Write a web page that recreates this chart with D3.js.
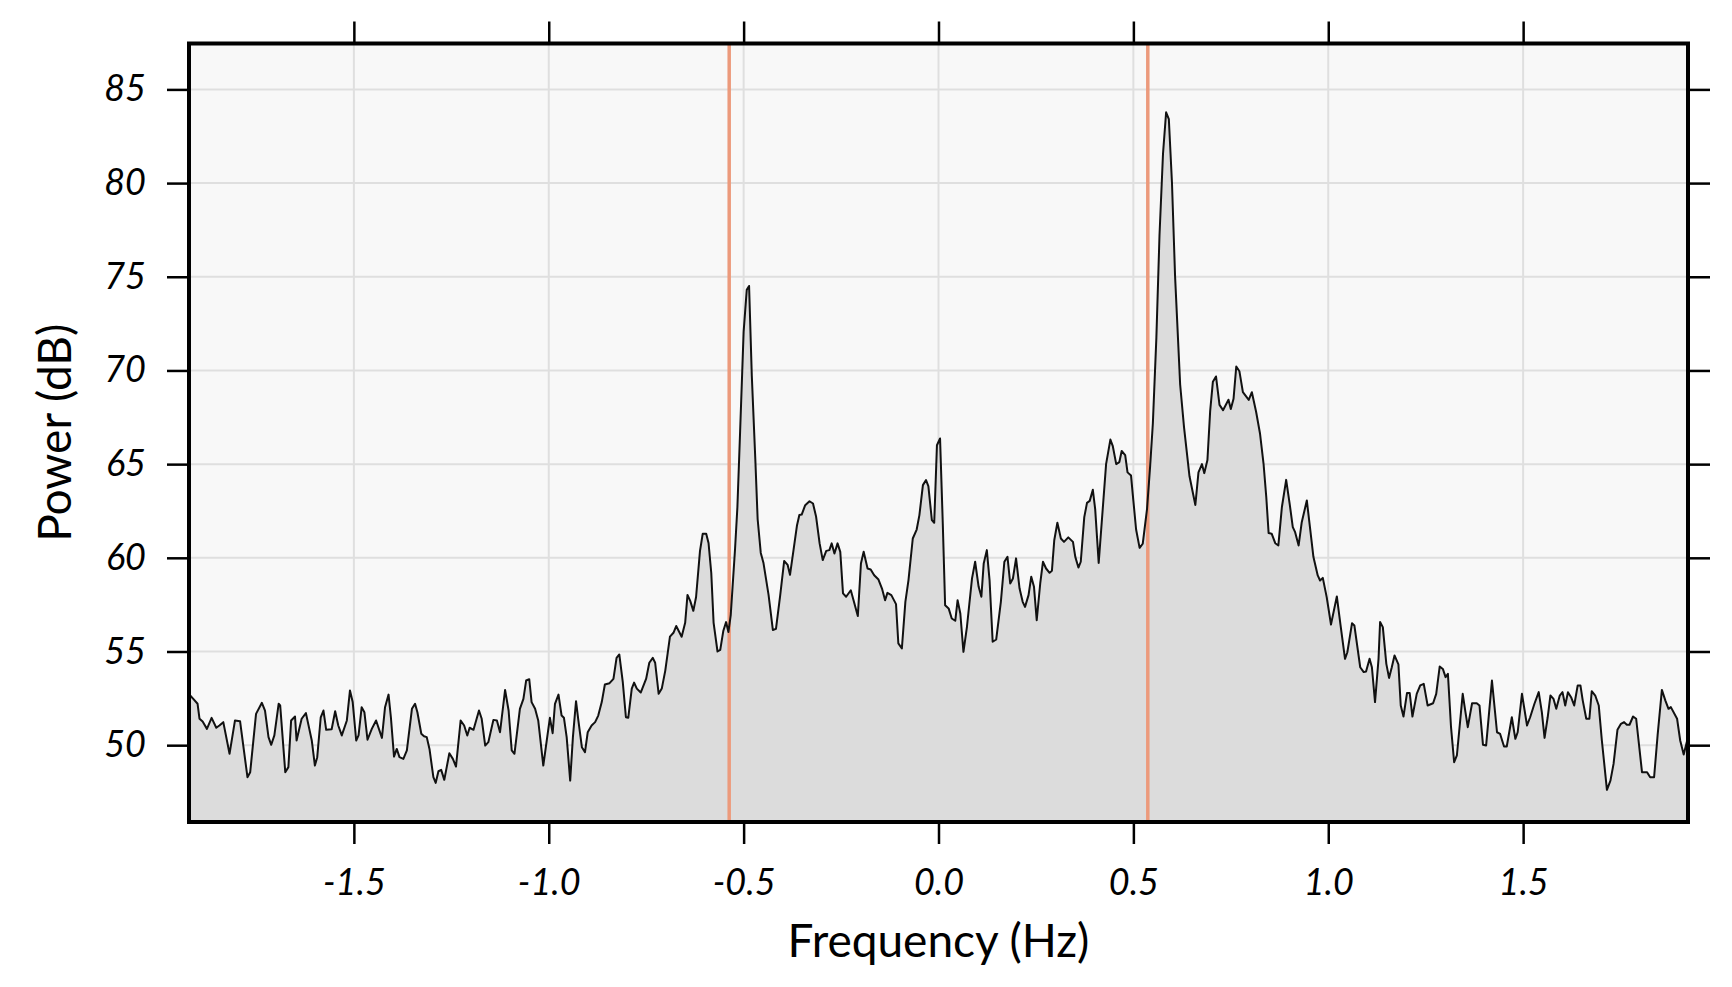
<!DOCTYPE html>
<html>
<head>
<meta charset="utf-8">
<script src="https://cdn.jsdelivr.net/npm/d3@7"></script>
<style>
  html, body { margin: 0; padding: 0; background: #ffffff; }
  svg { display: block; }
</style>
</head>
<body>
<svg id="chart" width="1732" height="987"></svg>
<script>
// ---------------- data ----------------
const freqHz = [
  -1.920,-1.912,-1.901,-1.896,-1.888,-1.877,-1.865,-1.853,-1.845,-1.835,-1.819,-1.805,-1.792,-1.773,-1.766,-1.751,-1.736,-1.728,-1.719,-1.712,-1.704,-1.693,-1.689,-1.676,-1.668,-1.661,-1.651,-1.647,-1.634,-1.623,-1.608,-1.600,-1.594,-1.585,-1.578,-1.571,-1.557,-1.548,-1.540,
  -1.531,-1.518,-1.510,-1.503,-1.494,-1.488,-1.480,-1.473,-1.465,-1.454,-1.443,-1.428,-1.420,-1.411,-1.405,-1.397,-1.390,-1.383,-1.373,-1.364,-1.351,-1.343,-1.337,-1.327,-1.320,-1.313,-1.306,-1.296,-1.290,-1.283,-1.276,-1.268,-1.255,-1.246,-1.238,-1.226,-1.217,-1.209,-1.203,-1.193,-1.179,-1.172,
  -1.163,-1.155,-1.142,-1.133,-1.125,-1.112,-1.103,-1.095,-1.088,-1.074,-1.065,-1.058,-1.050,-1.044,-1.035,-1.027,-1.014,-1.001,-0.997,-0.990,-0.984,-0.975,-0.967,-0.961,-0.954,-0.945,-0.938,-0.930,-0.924,-0.915,-0.907,-0.900,-0.890,-0.881,-0.873,-0.864,-0.856,-0.844,-0.834,-0.826,-0.819,-0.810,-0.802,-0.796,
  -0.787,-0.781,-0.774,-0.764,-0.750,-0.742,-0.733,-0.727,-0.718,-0.710,-0.701,-0.689,-0.680,-0.673,-0.659,-0.650,-0.644,-0.637,-0.629,-0.622,-0.612,-0.605,-0.596,-0.590,-0.583,-0.577,-0.567,-0.560,-0.552,-0.545,-0.539,-0.533,-0.522,-0.516,-0.509,-0.500,-0.492,-0.486,-0.479,-0.470,-0.464,-0.456,-0.449,-0.436,-0.425,-0.417,-0.406,-0.396,-0.387,-0.381,
  -0.372,-0.363,-0.357,-0.351,-0.342,-0.331,-0.322,-0.314,-0.305,-0.297,-0.288,-0.280,-0.274,-0.267,-0.259,-0.252,-0.245,-0.237,-0.225,-0.218,-0.207,-0.199,-0.192,-0.182,-0.174,-0.165,-0.154,-0.145,-0.137,-0.131,-0.121,-0.109,-0.103,-0.094,-0.085,-0.077,-0.066,-0.056,-0.049,-0.040,-0.032,-0.026,-0.017,-0.011,
  -0.004,0.004,0.011,0.017,0.026,0.034,0.043,0.049,0.056,0.064,0.073,0.086,0.094,0.103,0.110,0.116,0.124,0.131,0.139,0.148,0.160,0.169,0.177,0.184,0.191,0.199,0.208,0.216,0.222,0.231,0.238,0.245,0.252,0.261,0.268,0.276,0.285,0.291,0.297,0.305,0.314,0.322,0.333,0.345,0.351,0.359,0.365,
  0.374,0.381,0.388,0.396,0.402,0.411,0.419,0.430,0.441,0.447,0.456,0.464,0.470,0.479,0.485,0.494,0.500,0.507,0.516,0.524,0.535,0.543,0.550,0.559,0.567,0.576,0.584,0.591,0.599,0.607,0.620,0.630,0.644,0.659,0.667,0.676,0.682,0.690,0.697,0.704,0.712,0.721,0.730,0.744,0.750,0.757,
  0.764,0.772,0.781,0.796,0.804,0.815,0.825,0.834,0.841,0.847,0.855,0.864,0.872,0.881,0.892,0.901,0.909,0.915,0.924,0.932,0.945,0.954,0.962,0.973,0.979,0.986,0.996,1.007,1.022,1.032,1.043,1.049,1.061,1.067,1.082,1.091,1.097,1.106,1.112,1.120,1.129,
  1.133,1.140,1.149,1.156,1.163,1.170,1.180,1.186,1.193,1.202,1.209,1.216,1.227,1.236,1.245,1.255,1.269,1.277,1.286,1.294,1.301,1.307,1.315,1.323,1.330,1.345,1.352,1.358,1.369,1.381,1.388,1.397,1.405,1.420,1.433,1.441,1.451,1.458,1.471,1.480,1.486,1.497,1.510,
  1.518,1.529,1.540,1.548,1.555,1.563,1.570,1.578,1.585,1.594,1.601,1.608,1.615,1.623,1.631,1.640,1.647,1.653,1.662,1.670,1.676,1.685,1.694,1.702,1.715,1.724,1.732,1.742,1.751,1.759,1.766,1.773,1.782,1.790,1.805,1.818,1.826,1.836,1.845,1.856,1.865,1.873,1.879,1.895,1.903,1.912,1.922
];
const powerDb = [
  52.65,52.47,52.21,51.41,51.26,50.87,51.46,50.93,51.05,51.23,49.54,51.32,51.28,48.29,48.56,51.67,52.26,51.85,50.43,50.02,50.52,52.21,52.12,48.56,48.83,51.32,51.53,50.25,51.41,51.71,50.25,48.91,49.36,51.49,51.85,50.82,50.85,51.81,51.05,
  50.52,51.32,52.92,52.30,50.25,50.52,52.03,51.76,50.29,50.87,51.32,50.39,52.03,52.70,51.49,49.39,49.80,49.36,49.27,49.72,51.94,52.21,51.76,50.61,50.48,50.43,49.80,48.29,47.99,48.61,48.68,48.15,49.57,49.27,48.86,51.32,51.05,50.52,50.93,50.82,51.85,51.41,
  49.98,50.16,51.35,51.32,50.69,52.95,51.85,49.72,49.54,51.94,52.47,53.45,53.52,52.30,51.94,51.32,48.91,50.87,51.46,50.64,52.21,52.70,51.58,51.46,50.43,48.11,50.43,52.35,51.32,49.89,49.63,50.69,51.05,51.23,51.58,52.30,53.24,53.31,53.54,54.66,54.84,53.36,51.49,51.46,
  53.02,53.34,53.02,52.81,53.55,54.40,54.66,54.40,52.74,53.02,53.98,55.79,56.00,56.36,55.79,56.53,58.02,57.70,57.17,57.91,60.36,61.28,61.28,60.79,59.19,56.53,55.00,55.09,56.11,56.57,56.04,56.96,60.47,62.70,66.74,72.06,74.30,74.51,69.72,65.26,62.06,60.26,59.72,58.02,56.15,56.21,58.02,59.83,59.62,59.09,
  60.41,61.74,62.28,62.31,62.81,63.02,62.90,62.19,60.77,59.88,60.37,60.41,60.77,60.23,60.77,60.32,58.10,57.92,58.27,57.74,56.89,59.70,60.32,59.43,59.38,59.07,58.84,58.36,57.74,58.13,58.01,57.53,55.43,55.16,57.65,58.81,61.03,61.51,62.28,63.88,64.15,63.83,62.01,61.87,
  66.01,66.37,61.83,57.47,57.30,56.76,56.64,57.74,57.03,54.98,56.32,58.90,59.79,58.45,57.92,59.70,60.41,58.81,55.52,55.64,57.65,59.79,60.05,58.63,58.90,59.97,58.36,57.65,57.38,58.01,58.99,58.45,56.67,58.63,59.79,59.43,59.20,59.31,60.94,61.87,61.03,60.85,61.09,60.85,60.05,59.48,59.79,
  62.17,62.93,63.04,63.63,62.60,59.73,61.95,65.00,66.31,65.98,65.00,65.11,65.70,65.48,64.56,64.39,63.04,61.51,60.53,60.75,62.60,64.89,67.18,71.75,77.20,81.56,83.78,83.41,80.03,75.02,69.25,66.96,64.35,62.82,64.56,65.00,64.52,65.22,67.83,69.40,69.68,68.16,67.88,68.44,67.94,68.49,
  70.21,69.96,68.84,68.43,68.84,67.78,66.62,65.02,63.24,61.32,61.28,60.78,60.66,62.70,64.16,62.88,61.64,61.37,60.66,61.90,63.06,61.46,60.04,59.06,58.79,58.93,57.90,56.44,57.94,56.33,54.61,54.96,56.51,56.39,54.16,53.90,53.93,54.61,54.16,52.30,54.61,
  56.57,56.30,54.34,53.59,54.16,54.79,54.31,52.12,51.53,52.78,52.78,51.53,52.74,53.19,53.27,52.12,52.24,52.74,54.20,54.07,53.63,53.81,50.96,49.09,49.45,52.74,51.76,50.96,52.24,52.24,52.12,50.02,49.98,53.45,50.69,50.60,49.93,49.93,51.49,50.34,50.69,52.74,51.05,
  51.49,52.21,52.83,51.76,50.39,51.49,52.65,52.47,51.94,52.65,52.83,52.12,52.83,52.56,52.12,53.19,53.19,52.38,51.41,51.41,52.88,52.65,52.12,50.25,47.62,48.11,49.00,50.82,51.14,51.23,51.09,51.09,51.53,51.41,48.56,48.56,48.29,48.29,50.52,52.95,52.38,51.94,52.03,51.41,50.25,49.50,50.35
];
const markerFreqs = [-0.537, 0.537];
const xTicks = [-1.5, -1.0, -0.5, 0.0, 0.5, 1.0, 1.5];
const yTicks = [50, 55, 60, 65, 70, 75, 80, 85];
const xDomain = [-1.923, 1.923];
const yDomain = [45.9, 87.45];
const xTitle = "Frequency (Hz)";
const yTitle = "Power (dB)";

// ---------------- layout ----------------
const plot = { left: 189, right: 1688, top: 43.5, bottom: 822 };
const svg = d3.select("#chart");

const x = d3.scaleLinear().domain(xDomain).range([plot.left, plot.right]);
const y = d3.scaleLinear().domain(yDomain).range([plot.bottom, plot.top]);

const n = Math.min(freqHz.length, powerDb.length);
const data = d3.range(n).map(i => ({ f: freqHz[i], p: powerDb[i] }));

svg.append("defs").append("clipPath").attr("id", "clip")
  .append("rect")
  .attr("x", plot.left).attr("y", plot.top)
  .attr("width", plot.right - plot.left).attr("height", plot.bottom - plot.top);

// background
svg.append("rect")
  .attr("x", plot.left).attr("y", plot.top)
  .attr("width", plot.right - plot.left).attr("height", plot.bottom - plot.top)
  .attr("fill", "#f8f8f8");

// grid
const grid = svg.append("g").attr("clip-path", "url(#clip)");
grid.selectAll("line.gx").data(xTicks).join("line")
  .attr("x1", d => x(d)).attr("x2", d => x(d))
  .attr("y1", plot.top).attr("y2", plot.bottom)
  .attr("stroke", "#dfdfdf").attr("stroke-width", 2);
grid.selectAll("line.gy").data(yTicks).join("line")
  .attr("y1", d => y(d)).attr("y2", d => y(d))
  .attr("x1", plot.left).attr("x2", plot.right)
  .attr("stroke", "#dfdfdf").attr("stroke-width", 2);

const body = svg.append("g").attr("clip-path", "url(#clip)");

// filled area
const area = d3.area().x(d => x(d.f)).y0(y(yDomain[0])).y1(d => y(d.p));
body.append("path").datum(data).attr("d", area).attr("fill", "#dcdcdc");

// marker lines
body.selectAll("line.marker").data(markerFreqs).join("line")
  .attr("x1", d => x(d)).attr("x2", d => x(d))
  .attr("y1", plot.top).attr("y2", plot.bottom)
  .attr("stroke", "#ec9a7c").attr("stroke-width", 3.5);

// spectrum line
const line = d3.line().x(d => x(d.f)).y(d => y(d.p));
body.append("path").datum(data).attr("d", line)
  .attr("fill", "none").attr("stroke", "#111").attr("stroke-width", 2)
  .attr("stroke-linejoin", "round");

// axes
const fmtX = d => d.toFixed(1);
const fmtY = d => String(d);
const tickLen = 22;

const axB = svg.append("g").attr("transform", `translate(0,${plot.bottom})`)
  .call(d3.axisBottom(x).tickValues(xTicks).tickFormat(fmtX).tickSize(tickLen).tickPadding(25));
const axT = svg.append("g").attr("transform", `translate(0,${plot.top})`)
  .call(d3.axisTop(x).tickValues(xTicks).tickFormat("").tickSize(tickLen));
const axL = svg.append("g").attr("transform", `translate(${plot.left},0)`)
  .call(d3.axisLeft(y).tickValues(yTicks).tickFormat(fmtY).tickSize(tickLen).tickPadding(21));
const axR = svg.append("g").attr("transform", `translate(${plot.right},0)`)
  .call(d3.axisRight(y).tickValues(yTicks).tickFormat("").tickSize(tickLen));

[axB, axT, axL, axR].forEach(g => {
  g.select(".domain").remove();
  g.selectAll(".tick line").attr("stroke", "#000").attr("stroke-width", 2.5);
  g.selectAll(".tick text")
    .attr("fill", "#000")
    .style("font-family", "Lato, 'Open Sans', sans-serif")
    .style("font-style", "italic")
    .style("font-size", "36px");
});

// frame
svg.append("rect")
  .attr("x", plot.left).attr("y", plot.top)
  .attr("width", plot.right - plot.left).attr("height", plot.bottom - plot.top)
  .attr("fill", "none").attr("stroke", "#000").attr("stroke-width", 4);

// titles
svg.append("text")
  .attr("x", (plot.left + plot.right) / 2).attr("y", 957)
  .attr("text-anchor", "middle")
  .style("font-family", "Lato, 'Open Sans', sans-serif")
  .style("font-size", "46px")
  .attr("fill", "#000")
  .text(xTitle);

svg.append("text")
  .attr("transform", `translate(55,${(plot.top + plot.bottom) / 2}) rotate(-90)`)
  .attr("text-anchor", "middle")
  .attr("dy", "0.35em")
  .style("font-family", "Lato, 'Open Sans', sans-serif")
  .style("font-size", "46px")
  .attr("fill", "#000")
  .text(yTitle);
</script>
</body>
</html>
